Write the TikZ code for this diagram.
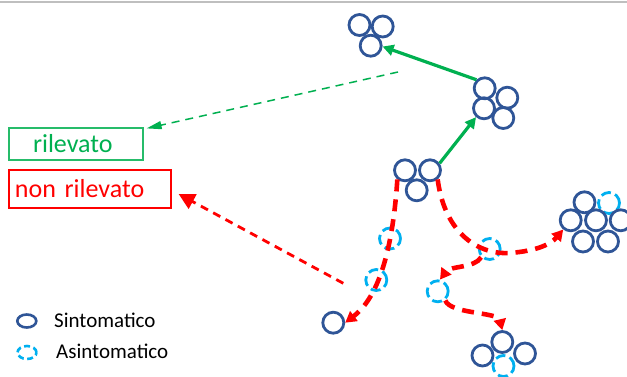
\documentclass[tikz,border=0pt]{standalone}
\usepackage{fontspec}
\setmainfont{Carlito}
\usetikzlibrary{arrows.meta,shapes.geometric,calc}
\definecolor{symblue}{HTML}{2F5597}
\definecolor{asycyan}{HTML}{00B0F0}
\definecolor{detgreen}{HTML}{00B050}
\definecolor{undred}{HTML}{FF0000}
\definecolor{rulegray}{HTML}{BFBFBF}
\begin{document}
\begin{tikzpicture}[x=1pt,y=-1pt,
  sym/.style={circle, draw=symblue, line width=2.8pt, minimum size=21pt, inner sep=0pt},
  asy/.style={circle, draw=asycyan, line width=2.8pt, minimum size=21pt, inner sep=0pt,
              dash pattern=on 10pt off 4.5pt},
  legsym/.style={ellipse, draw=symblue, line width=2.6pt, minimum width=19pt, minimum height=13pt, inner sep=0pt},
  legasy/.style={ellipse, draw=asycyan, line width=2.6pt, minimum width=19pt, minimum height=13pt, inner sep=0pt,
              dash pattern=on 6pt off 3.5pt},
  legtext/.style={anchor=west, inner sep=0pt, font=\fontsize{21}{24}\selectfont, text=black},
  spread/.style={draw=detgreen, line width=3.2pt, -{Triangle[length=11pt,width=11pt]}},
  report/.style={draw=detgreen, line width=1.5pt, dash pattern=on 8pt off 6pt, -{Triangle[length=15pt,width=8pt]}},
  hidden/.style={draw=undred, line width=4.6pt, dash pattern=on 12pt off 8pt, -{Triangle[length=11pt,width=12pt]}},
  miss/.style={draw=undred, line width=2.8pt, dash pattern=on 8pt off 6pt, -{Triangle[length=16pt,width=16pt]}},
  labelbox/.style={draw, line width=1.2pt, inner ysep=0pt, align=left, font=\fontsize{26}{30}\selectfont}
]
\fill[white] (0,0) rectangle (627,376);
\useasboundingbox (0,0) rectangle (627,376);
\clip (0,0) rectangle (627,376);

% top rule
\draw[rulegray, line width=1.8pt] (0,1.8) -- (627,1.8);

% status boxes
\node[labelbox, draw=detgreen!85, text=detgreen, minimum width=134pt, minimum height=32pt,
      inner xsep=24pt, text width=86pt] (det) at (76,144) {rilevato};
\node[labelbox, draw=undred, text=undred, minimum width=162pt, minimum height=38pt,
      inner xsep=6pt, text width=150pt] (und) at (90,189) {non rilevato};

% top cluster
\node[sym] (t1) at (359.5,25) {};
\node[sym] (t2) at (382.7,26.5) {};
\node[sym] (t3) at (370.7,45.7) {};

% middle cluster
\node[sym] (m1) at (484.7,88.3) {};
\node[sym] (m2) at (507.3,97.7) {};
\node[sym] (m3) at (484,108.3) {};
\node[sym] (m4) at (503.3,118) {};

% source cluster
\node[sym] (h1) at (405,170.3) {};
\node[sym] (h2) at (430,170.3) {};
\node[sym] (h3) at (416.7,190.3) {};

% large cluster on the right
\node[asy] (g2) at (609,203) {};
\node[sym] (g1) at (584.5,202.3) {};
\node[sym] (g3) at (570.7,220.3) {};
\node[sym] (g4) at (596,220.3) {};
\node[sym] (g5) at (620.7,220.3) {};
\node[sym] (g6) at (583,241.5) {};
\node[sym] (g7) at (608,241.5) {};

% bottom cluster
\node[asy] (b4) at (503.5,366) {};
\node[sym] (b2) at (482.5,355.5) {};
\node[sym] (b3) at (525,353.5) {};
\node[sym] (b1) at (502.3,342) {};

% single cases
\node[asy] (a1) at (390,238.5) {};
\node[asy] (a2) at (489.7,249) {};
\node[asy] (a3) at (376.3,280) {};
\node[asy] (a4) at (437.7,291.3) {};
\node[sym] (s1) at (333.3,322.7) {};

% detected chain
\draw[spread] (m1.134) -- (t3.-4);
\draw[spread] (h2.36) -- (m3.228);
\coordinate (gs) at (398,72);
\draw[report] (gs) -- ($(det.north east)+(3,1)$);

% undetected chains
\draw[hidden] (h1.230) .. controls (392,260) and (375,300) .. (s1.east);
\draw[hidden] (h2.-50) .. controls (445,235) and (480,255) .. (510,253)
                       .. controls (535,251) and (550,245) .. (g3.231);
\draw[hidden] (a2.224) .. controls (475,268) and (450,266) .. (a4.79);
\draw[hidden] (a4.-50) .. controls (450,314) and (498,312) .. (b1.north);
\coordinate (rs) at (343.3,283.3);
\draw[miss] (rs) -- ($(und.east)+(7,5)$);

% legend
\node[legsym] (ls) at (26.8,321) {};
\node[legtext] (lst) at (54,320) {Sintomatico};
\node[legasy] (la) at (27,352.5) {};
\node[legtext] (lat) at (56,351.5) {Asintomatico};
\end{tikzpicture}
\end{document}
